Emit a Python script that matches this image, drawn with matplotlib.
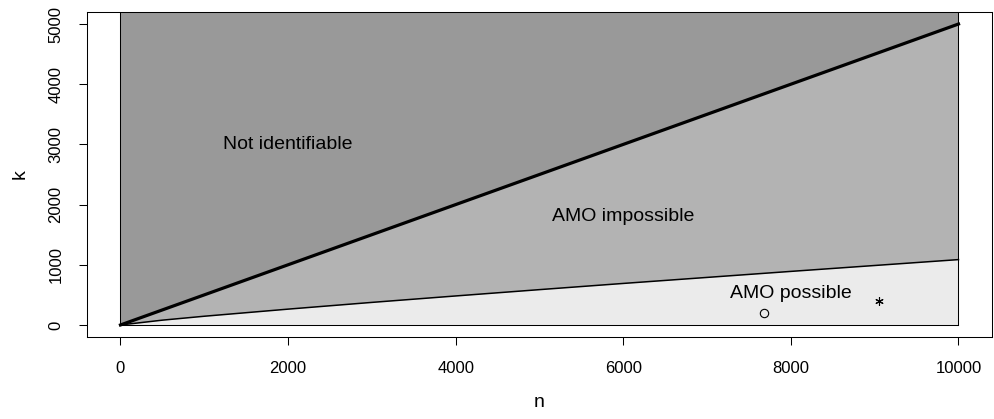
import matplotlib
matplotlib.use("Agg")
import matplotlib.pyplot as plt
import numpy as np

plt.rcParams['font.family'] = ['Liberation Sans', 'DejaVu Sans']

# boundary curves
n_vals = np.array([0, 500, 1000, 2000, 3000, 4000, 5000, 6000, 7000, 8000, 9000, 10000])
k_upper = np.array([0, 250, 500, 1000, 1500, 2000, 2500, 3000, 3500, 4000, 4500, 5000])
k_lower = np.array([0, 80, 145, 263, 375, 482, 587, 690, 790, 890, 988, 1086])
k_top = 6000

# region labels and the two points
labels = ['Not identifiable', 'AMO impossible', 'AMO possible']
label_n = [2000, 6000, 8000]
label_k = [3000, 1800, 520]
circle_n, circle_k = [7680], [200]
star_n, star_k = [9050], [390]

fig = plt.figure(figsize=(9.95, 4.19), dpi=100)
ax = fig.add_axes([0.0874, 0.1957, 0.9096, 0.7757])

ax.fill_between(n_vals, k_upper, k_top, color='#999999', lw=0)
ax.fill_between(n_vals, k_lower, k_upper, color='#b3b3b3', lw=0)
ax.fill_between(n_vals, 0, k_lower, color='#ebebeb', lw=0)
ax.plot([0, 0], [0, k_top], color='black', lw=0.75)
ax.plot([n_vals[-1], n_vals[-1]], [0, k_top], color='black', lw=0.75)
ax.plot([0, n_vals[-1]], [0, 0], color='black', lw=0.75)
ax.plot(n_vals, k_upper, color='black', lw=2.3)
ax.plot(n_vals, k_lower, color='black', lw=1.1)

for t, x, y in zip(labels, label_n, label_k):
    ax.text(x, y, t, ha='center', va='center', fontsize=14)

ax.plot(circle_n, circle_k, 'o', mfc='none', mec='black', ms=6, mew=0.8)
ax.plot(star_n, star_k, marker=(6, 2, 0), color='black', ms=6, mew=0.8, ls='none')

ax.set_xlim(-400, 10400)
ax.set_ylim(-200, 5200)
ax.set_xticks([0, 2000, 4000, 6000, 8000, 10000])
ax.set_yticks([0, 1000, 2000, 3000, 4000, 5000])
ax.tick_params(axis='both', length=6, width=0.75, labelsize=12, pad=11)
for lab in ax.get_yticklabels():
    lab.set_rotation(90)
    lab.set_va('center')
for s in ax.spines.values():
    s.set_linewidth(0.75)

ax.set_xlabel('n', fontsize=14, labelpad=13)
ax.set_ylabel('k', fontsize=14, labelpad=14)

fig.savefig('out.png', dpi=100)
